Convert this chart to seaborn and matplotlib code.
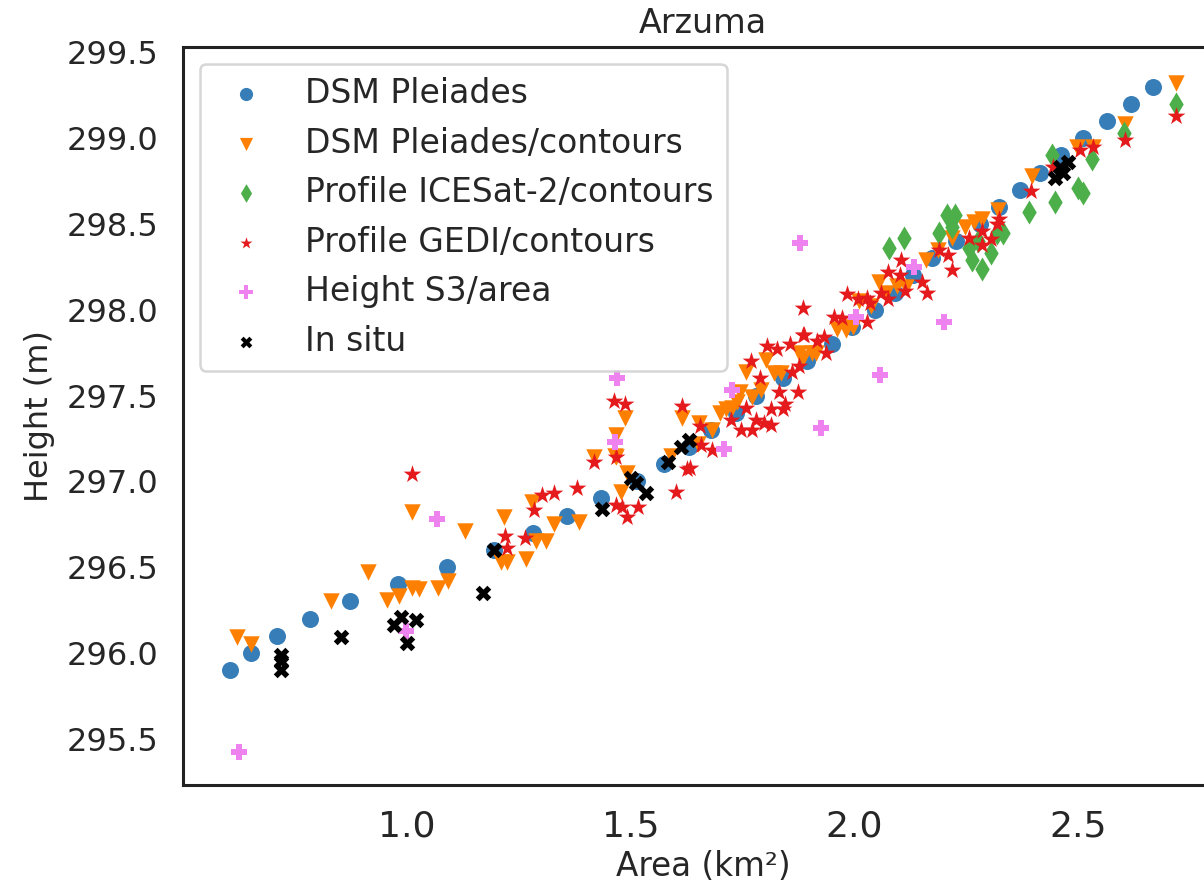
import matplotlib
matplotlib.use("Agg")
import matplotlib.pyplot as plt
import seaborn as sns

# ---------------- data ----------------
dsm_x = [0.606, 0.651, 0.709, 0.783, 0.872, 0.980, 1.089, 1.195, 1.282, 1.358,
         1.434, 1.515, 1.575, 1.630, 1.680, 1.736, 1.781, 1.840, 1.893, 1.949,
         1.995, 2.045, 2.090, 2.130, 2.174, 2.228, 2.280, 2.324, 2.369, 2.414,
         2.461, 2.510, 2.564, 2.617, 2.667]
dsm_y = [295.9, 296.0, 296.1, 296.2, 296.3, 296.4, 296.5, 296.6, 296.7, 296.8,
         296.9, 297.0, 297.1, 297.2, 297.3, 297.4, 297.5, 297.6, 297.7, 297.8,
         297.9, 298.0, 298.1, 298.2, 298.3, 298.4, 298.5, 298.6, 298.7, 298.8,
         298.9, 299.0, 299.1, 299.2, 299.3]

cont_x = [0.620, 0.651, 0.830, 0.913, 1.011, 1.130, 0.955, 0.982, 1.011, 1.027,
          1.069, 1.092, 1.217, 1.210, 1.224, 1.266, 1.280, 1.289, 1.311, 1.329,
          1.385, 1.418, 1.468, 1.492, 1.479, 1.488, 1.468, 1.465, 1.615, 1.653,
          1.682, 1.591, 1.650, 1.700, 1.745, 1.758, 1.803, 1.821, 1.837, 1.877,
          1.884, 1.906, 1.792, 1.772, 1.727, 1.714, 1.738, 2.056, 2.094, 2.116,
          2.161, 1.962, 1.982, 1.996, 2.038, 2.010, 2.070, 1.915, 2.219, 2.186,
          2.246, 2.268, 2.286, 2.320, 2.396, 2.497, 2.532, 2.604, 2.718]
cont_y = [296.09, 296.05, 296.30, 296.47, 296.82, 296.71, 296.31, 296.33, 296.38, 296.37,
          296.38, 296.42, 296.79, 296.53, 296.53, 296.55, 296.88, 296.65, 296.65, 296.75,
          296.76, 297.14, 297.14, 297.05, 296.94, 297.37, 297.27, 297.15, 297.37, 297.34,
          297.30, 297.15, 297.22, 297.40, 297.52, 297.64, 297.71, 297.63, 297.63, 297.75,
          297.72, 297.75, 297.53, 297.49, 297.43, 297.42, 297.46, 298.16, 298.14, 298.13,
          298.29, 297.89, 297.88, 297.90, 298.02, 298.05, 298.10, 297.75, 298.42, 298.35,
          298.48, 298.51, 298.53, 298.58, 298.78, 298.95, 298.95, 299.08, 299.32]

ice_x = [2.078, 2.110, 2.190, 2.206, 2.224, 2.217, 2.257, 2.262, 2.286, 2.306,
         2.318, 2.331, 2.275, 2.389, 2.447, 2.499, 2.510, 2.530, 2.441, 2.602, 2.718]
ice_y = [298.36, 298.42, 298.45, 298.55, 298.55, 298.48, 298.36, 298.29, 298.24, 298.33,
         298.45, 298.45, 298.40, 298.57, 298.63, 298.71, 298.68, 298.88, 298.90, 299.03, 299.20]

gedi_x = [1.011, 1.418, 1.468, 1.302, 1.329, 1.380, 1.284, 1.219, 1.224, 1.264,
          1.468, 1.481, 1.517, 1.492, 1.602, 1.626, 1.463, 1.488, 1.615, 1.655,
          1.658, 1.682, 1.633, 1.770, 1.805, 1.826, 1.855, 1.886, 1.917, 1.937,
          1.877, 1.861, 1.790, 1.832, 1.875, 1.758, 1.725, 1.747, 1.772, 1.781,
          1.799, 1.814, 1.814, 1.841, 1.846, 2.105, 2.076, 2.101, 2.112, 2.152,
          2.163, 2.060, 2.074, 1.984, 2.009, 2.027, 2.034, 1.955, 1.973, 2.027,
          1.884, 1.888, 1.933, 2.190, 2.208, 2.219, 2.257, 2.284, 2.306, 2.318,
          2.718, 2.604, 2.532, 2.503, 2.443, 2.394, 2.324, 2.284]
gedi_y = [297.04, 297.11, 297.14, 296.92, 296.93, 296.96, 296.83, 296.68, 296.61, 296.67,
          296.86, 296.85, 296.85, 296.79, 296.94, 297.07, 297.47, 297.45, 297.44, 297.32,
          297.21, 297.18, 297.08, 297.70, 297.79, 297.77, 297.80, 297.85, 297.82, 297.75,
          297.67, 297.64, 297.60, 297.52, 297.52, 297.43, 297.36, 297.30, 297.30, 297.36,
          297.34, 297.33, 297.42, 297.42, 297.45, 298.29, 298.22, 298.20, 298.11, 298.16,
          298.10, 298.10, 298.06, 298.09, 298.06, 298.07, 298.04, 297.96, 297.95, 297.93,
          298.01, 297.85, 297.84, 298.35, 298.32, 298.23, 298.42, 298.38, 298.41, 298.50,
          299.13, 298.99, 298.95, 298.93, 298.83, 298.69, 298.53, 298.46]

s3_x = [0.624, 0.998, 1.067, 1.470, 1.465, 1.727, 1.709, 1.926, 1.879, 2.134, 2.199, 2.058, 2.004]
s3_y = [295.42, 296.13, 296.78, 297.60, 297.23, 297.53, 297.19, 297.31, 298.39, 298.25, 297.93, 297.62, 297.96]

situ_x = [0.720, 0.718, 0.718, 0.852, 0.971, 0.987, 1.020, 1.000, 1.170, 1.195,
          1.436, 1.501, 1.512, 1.535, 1.584, 1.613, 1.631, 2.447, 2.459, 2.477, 2.465]
situ_y = [295.99, 295.95, 295.90, 296.09, 296.16, 296.21, 296.19, 296.06, 296.35, 296.60,
          296.84, 297.02, 296.99, 296.93, 297.11, 297.20, 297.24, 298.77, 298.83, 298.86, 298.80]

labels = ["DSM Pleiades", "DSM Pleiades/contours", "Profile ICESat-2/contours",
          "Profile GEDI/contours", "Height S3/area", "In situ"]
colors = ["#377eb8", "#ff7f00", "#4daf4a", "#e41a1c", "violet", "black"]
markers = ["o", "v", "d", "*", "P", "X"]
sizes = [150, 140, 150, 180, 120, 125]
legend_sizes = [90, 90, 90, 80, 90, 70]

# ---------------- plot ----------------
sns.set_theme(style="white")
plt.rcParams['font.family'] = ['DejaVu Sans']

fig = plt.figure(figsize=(12.04, 8.92), dpi=100)
ax = fig.add_axes([0.152, 0.12, 0.864, 0.827])

data = [(dsm_x, dsm_y), (cont_x, cont_y), (ice_x, ice_y),
        (gedi_x, gedi_y), (s3_x, s3_y), (situ_x, situ_y)]
for (xs, ys), lab, c, m, s in zip(data, labels, colors, markers, sizes):
    sns.scatterplot(x=xs, y=ys, marker=m, color=c, s=s, linewidth=0,
                    label=lab, ax=ax)

ax.set_xlim(0.5, 2.824)
ax.set_ylim(295.23, 299.53)
ax.set_xticks([1.0, 1.5, 2.0, 2.5])
ax.set_yticks([295.5, 296.0, 296.5, 297.0, 297.5, 298.0, 298.5, 299.0, 299.5])
ax.tick_params(axis='x', labelsize=26, pad=18, length=0, labelcolor='#262626')
ax.tick_params(axis='y', labelsize=23, pad=18, length=0, labelcolor='#262626')

ax.set_title("Arzuma", fontsize=24, pad=10, color='#262626')
ax.set_xlabel("Area (km²)", fontsize=23.5, labelpad=4, color='#262626')
ax.set_ylabel("Height (m)", fontsize=23, labelpad=8, color='#262626')

for sp in ax.spines.values():
    sp.set_color('#222222')
    sp.set_linewidth(2.2)

leg = ax.legend(loc='upper left', fontsize=23.8, frameon=True, fancybox=True)
leg.get_frame().set_edgecolor('#cccccc')
leg.get_frame().set_linewidth(1.8)
for h, ls in zip(leg.legend_handles, legend_sizes):
    h.set_sizes([ls])
for t in leg.get_texts():
    t.set_color('#262626')

fig.savefig("out.png", dpi=100)
